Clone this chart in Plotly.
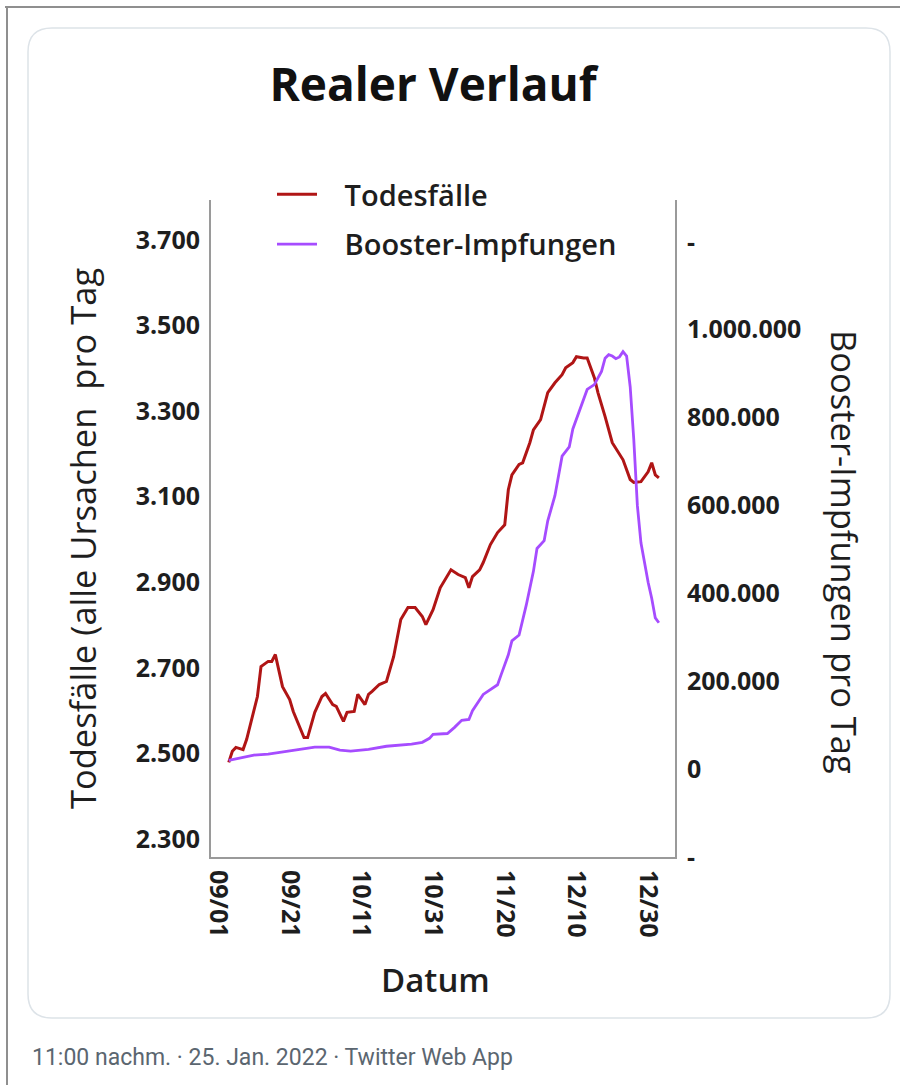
import datetime as dt
import plotly.graph_objects as go

# ---------------- data ----------------
death_dates = [
    "2021-09-04", "2021-09-05", "2021-09-06", "2021-09-08", "2021-09-09", "2021-09-10",
    "2021-09-11", "2021-09-12", "2021-09-13", "2021-09-15", "2021-09-16", "2021-09-17",
    "2021-09-19", "2021-09-21", "2021-09-22", "2021-09-23", "2021-09-25", "2021-09-26",
    "2021-09-28", "2021-09-30", "2021-10-01", "2021-10-03", "2021-10-04", "2021-10-06",
    "2021-10-07", "2021-10-09", "2021-10-10", "2021-10-12", "2021-10-13", "2021-10-14",
    "2021-10-16", "2021-10-18", "2021-10-20", "2021-10-22", "2021-10-24", "2021-10-26",
    "2021-10-28", "2021-10-29", "2021-10-31", "2021-11-02", "2021-11-05", "2021-11-07",
    "2021-11-09", "2021-11-10", "2021-11-11", "2021-11-13", "2021-11-14", "2021-11-16",
    "2021-11-18", "2021-11-20", "2021-11-21", "2021-11-22", "2021-11-24", "2021-11-25",
    "2021-11-27", "2021-11-28", "2021-11-30", "2021-12-02", "2021-12-04", "2021-12-06",
    "2021-12-07", "2021-12-09", "2021-12-10", "2021-12-12", "2021-12-13", "2021-12-15",
    "2021-12-16", "2021-12-18", "2021-12-20", "2021-12-23", "2021-12-25", "2021-12-26",
    "2021-12-28", "2021-12-30", "2021-12-31", "2022-01-01", "2022-01-02",
]
death_values = [
    2479, 2505, 2514, 2509, 2533, 2568,
    2596, 2633, 2703, 2715, 2715, 2731,
    2656, 2626, 2598, 2579, 2537, 2537,
    2596, 2633, 2640, 2614, 2610, 2575,
    2596, 2598, 2638, 2614, 2638, 2645,
    2661, 2668, 2726, 2813, 2841, 2841,
    2820, 2801, 2836, 2887, 2929, 2918,
    2911, 2887, 2913, 2929, 2946, 2988,
    3016, 3034, 3116, 3151, 3175, 3179,
    3226, 3256, 3280, 3343, 3366, 3385,
    3401, 3413, 3427, 3424, 3424, 3378,
    3343, 3287, 3226, 3186, 3140, 3133,
    3135, 3158, 3179, 3151, 3144,
]

booster_dates = [
    "2021-09-04", "2021-09-07", "2021-09-11", "2021-09-15", "2021-09-18", "2021-09-24",
    "2021-09-28", "2021-10-02", "2021-10-05", "2021-10-08", "2021-10-13", "2021-10-18",
    "2021-10-22", "2021-10-25", "2021-10-28", "2021-10-30", "2021-10-31", "2021-11-04",
    "2021-11-06", "2021-11-08", "2021-11-10", "2021-11-11", "2021-11-14", "2021-11-16",
    "2021-11-18", "2021-11-19", "2021-11-21", "2021-11-22", "2021-11-24", "2021-11-26",
    "2021-11-28", "2021-11-29", "2021-12-01", "2021-12-02", "2021-12-04", "2021-12-06",
    "2021-12-08", "2021-12-09", "2021-12-11", "2021-12-13", "2021-12-15", "2021-12-16",
    "2021-12-17", "2021-12-18", "2021-12-19", "2021-12-20", "2021-12-21", "2021-12-22",
    "2021-12-23", "2021-12-24", "2021-12-25", "2021-12-26", "2021-12-27", "2021-12-28",
    "2021-12-29", "2021-12-30", "2021-12-31", "2022-01-01", "2022-01-02",
]
booster_values = [
    20000, 25000, 32000, 34000, 38000, 45000,
    50000, 50000, 43000, 41000, 45000, 52000,
    54000, 57000, 61000, 70000, 79000, 81000,
    95000, 111000, 113000, 133000, 170000, 181000,
    192000, 215000, 260000, 292000, 305000, 373000,
    450000, 502000, 520000, 565000, 622000, 712000,
    733000, 774000, 819000, 864000, 875000, 889000,
    905000, 935000, 943000, 940000, 934000, 938000,
    950000, 940000, 870000, 750000, 600000, 515000,
    465000, 425000, 389000, 344000, 333000,
]

x_tick_dates = ["2021-09-01", "2021-09-21", "2021-10-11", "2021-10-31",
                "2021-11-20", "2021-12-10", "2021-12-30"]
x_tick_labels = ["09/01", "09/21", "10/11", "10/31", "11/20", "12/10", "12/30"]

left_ticks = [2300, 2500, 2700, 2900, 3100, 3300, 3500, 3700]
right_ticks = [-200000, 0, 200000, 400000, 600000, 800000, 1000000, 1200000]
right_tick_labels = ["-", "0", "200.000", "400.000", "600.000", "800.000", "1.000.000", "-"]

title_text = "Realer Verlauf"
legend_names = ["Todesfälle", "Booster-Impfungen"]
left_title = "Todesfälle (alle Ursachen  pro Tag"
right_title = "Booster-Impfungen pro Tag"
x_title = "Datum"
footer_text = "11:00 nachm. · 25. Jan. 2022 · Twitter Web App"

# ---------------- layout geometry (pixels) ----------------
W, H = 900, 1085
L, R, T, B = 211, 675, 200, 857   # plot area edges in pixels

def px(xp):
    return (xp - L) / (R - L)

def py(yp):
    return (B - yp) / (B - T)

FONT = "'Open Sans', Lato, sans-serif"
TXT = "#1e1e1e"
RED = "#b01515"
PURPLE = "#a64cff"
AXIS = "#9a9a9a"
NB = "\u00a0"

start = dt.datetime(2021, 9, 1)
x_range = [start - dt.timedelta(days=1.95), start + dt.timedelta(days=127.5)]

fig = go.Figure()
fig.add_trace(go.Scatter(
    x=death_dates, y=death_values, name=NB * 3 + legend_names[0], mode="lines",
    line=dict(color=RED, width=3), yaxis="y", legendgroup="a",
))
fig.add_trace(go.Scatter(
    x=booster_dates, y=booster_values, name=NB * 3 + legend_names[1], mode="lines",
    line=dict(color=PURPLE, width=2.8), yaxis="y2", legendgroup="b",
))

# rounded card
x0, y0, x1, y1, r = 28, 28, 890, 1018, 24
card_path = (
    f"M {px(x0 + r)},{py(y0)} L {px(x1 - r)},{py(y0)} "
    f"Q {px(x1)},{py(y0)} {px(x1)},{py(y0 + r)} "
    f"L {px(x1)},{py(y1 - r)} Q {px(x1)},{py(y1)} {px(x1 - r)},{py(y1)} "
    f"L {px(x0 + r)},{py(y1)} Q {px(x0)},{py(y1)} {px(x0)},{py(y1 - r)} "
    f"L {px(x0)},{py(y0 + r)} Q {px(x0)},{py(y0)} {px(x0 + r)},{py(y0)} Z"
)

shapes = [
    dict(type="path", xref="paper", yref="paper", path=card_path,
         line=dict(color="#dde3e8", width=1.5), fillcolor="rgba(0,0,0,0)", layer="below"),
    dict(type="line", xref="paper", yref="paper", x0=px(5), x1=px(900), y0=py(7), y1=py(7),
         line=dict(color="#8f8f8f", width=2)),
    dict(type="line", xref="paper", yref="paper", x0=px(7), x1=px(7), y0=py(7), y1=py(1085),
         line=dict(color="#8f8f8f", width=2)),
]

annotations = [
    dict(text=left_title, xref="paper", yref="paper", x=px(82), y=py(539),
         textangle=-90, showarrow=False, xanchor="center", yanchor="middle",
         font=dict(family=FONT, size=34.5, color=TXT, weight=500)),
    dict(text=right_title, xref="paper", yref="paper", x=px(845), y=py(552),
         textangle=90, showarrow=False, xanchor="center", yanchor="middle",
         font=dict(family=FONT, size=34.5, color=TXT, weight=500)),
    dict(text=x_title, xref="paper", yref="paper", x=px(435), y=py(979),
         showarrow=False, xanchor="center", yanchor="middle",
         font=dict(family=FONT, size=33, color=TXT, weight=600)),
    dict(text=footer_text, xref="paper", yref="paper", x=px(30), y=py(1057),
         showarrow=False, xanchor="left", yanchor="middle",
         font=dict(family="Roboto, sans-serif", size=23, color="#5b6670")),
]

fig.update_layout(
    width=W, height=H,
    margin=dict(l=L, r=W - R, t=T, b=H - B, pad=0),
    paper_bgcolor="white", plot_bgcolor="white",
    separators=",.",
    showlegend=True,
    title=dict(text=title_text, x=433 / W, y=1 - 85 / H, xanchor="center", yanchor="middle",
               font=dict(family=FONT, size=46, color="#111111", weight="bold")),
    legend=dict(x=px(272), y=py(169), xanchor="left", yanchor="top",
                bgcolor="rgba(0,0,0,0)", borderwidth=0, tracegroupgap=9,
                font=dict(family=FONT, size=29, color=TXT, weight=600),
                traceorder="grouped", itemwidth=40),
    xaxis=dict(
        type="date", range=x_range, tickvals=x_tick_dates, ticktext=x_tick_labels,
        tickangle=90, showgrid=False, zeroline=False, showline=True,
        linecolor=AXIS, linewidth=2, ticks="", mirror=False, ticklabelstandoff=6,
        tickfont=dict(family=FONT, size=25, color=TXT, weight="bold"),
    ),
    yaxis=dict(
        range=[2258, 3793], tickvals=left_ticks, tickformat=",d",
        showgrid=False, zeroline=False, showline=True, linecolor=AXIS, linewidth=2,
        ticks="", ticklabelstandoff=4,
        tickfont=dict(family=FONT, size=25, color=TXT, weight="bold"),
    ),
    yaxis2=dict(
        range=[-200000, 1295000], tickvals=right_ticks, ticktext=right_tick_labels,
        overlaying="y", side="right", anchor="x",
        showgrid=False, zeroline=False, showline=True, linecolor=AXIS, linewidth=2,
        ticks="", ticklabelstandoff=5,
        tickfont=dict(family=FONT, size=25, color=TXT, weight="bold"),
    ),
    shapes=shapes,
    annotations=annotations,
)

fig.write_html(
    "out.html",
    config={"displayModeBar": False},
    post_script="document.body.style.margin='0';document.body.style.overflow='hidden';",
)
